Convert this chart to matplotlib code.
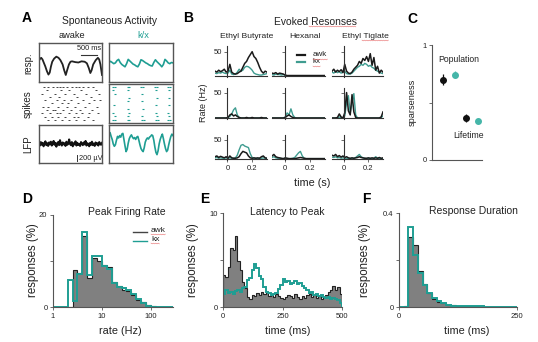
import numpy as np
import matplotlib
matplotlib.use("Agg")
import matplotlib.pyplot as plt

plt.rcParams['font.family'] = ['Liberation Sans', 'DejaVu Sans']

W, H = 538, 342
fig = plt.figure(figsize=(W / 100, H / 100), dpi=100)

TEAL = '#1f9e93'
TEAL_B = '#3f9c90'
TEAL_C = '#45b6a9'
GRAY = '#808080'
SPINE = '#555555'
TXT = '#222222'

# ---------------- data ----------------
# Panel A: resp traces (normalised box coordinates)
awake_resp_x = [0, 0.02, 0.035, 0.055, 0.075, 0.1, 0.125, 0.15, 0.17, 0.19, 0.21, 0.24, 0.275, 0.31, 0.34, 0.375,
                0.4, 0.425, 0.45, 0.475, 0.5, 0.525, 0.575, 0.625, 0.675, 0.725, 0.76, 0.79, 0.815, 0.835, 0.86,
                0.9, 0.935, 0.955, 0.975, 1.0]
awake_resp_y = [0.55, 0.60, 0.62, 0.58, 0.50, 0.40, 0.28, 0.19, 0.24, 0.40, 0.52, 0.60, 0.65, 0.62, 0.56, 0.45,
                0.30, 0.18, 0.32, 0.45, 0.52, 0.53, 0.51, 0.50, 0.53, 0.52, 0.48, 0.36, 0.23, 0.30, 0.45,
                0.56, 0.62, 0.58, 0.45, 0.18]
kx_resp_y = [0.50, 0.53, 0.50, 0.47, 0.49, 0.55, 0.58, 0.50, 0.45, 0.42, 0.39, 0.47, 0.58, 0.54, 0.50, 0.46,
             0.44, 0.41, 0.39, 0.46, 0.57, 0.55, 0.52, 0.49, 0.47, 0.44, 0.42, 0.41, 0.50, 0.57, 0.52, 0.48,
             0.44, 0.39, 0.45, 0.58, 0.54, 0.49, 0.47, 0.50, 0.49]
awake_spikes = [
    [0.08, 0.14, 0.22, 0.28, 0.33, 0.38, 0.45, 0.52, 0.58, 0.63, 0.70, 0.78, 0.86],
    [0.12, 0.35, 0.48, 0.66, 0.90],
    [0.05, 0.25, 0.42, 0.55, 0.74, 0.95],
    [0.18, 0.31, 0.60, 0.82],
    [0.10, 0.28, 0.40, 0.51, 0.70, 0.88, 0.97],
    [0.20, 0.36, 0.46, 0.62, 0.79],
    [0.07, 0.15, 0.30, 0.44, 0.57, 0.73, 0.92],
    [0.12, 0.22, 0.26, 0.38, 0.50, 0.65, 0.84],
    [0.04, 0.17, 0.28, 0.33, 0.47, 0.59, 0.69, 0.80, 0.94],
    [0.10, 0.21, 0.30, 0.42, 0.55, 0.62, 0.77],
    [0.15, 0.25, 0.36, 0.48, 0.58, 0.72, 0.85],
]
kx_spikes = [
    [0.06, 0.09, 0.29, 0.31, 0.50, 0.53, 0.72, 0.75, 0.92, 0.95],
    [0.07, 0.30, 0.74, 0.93],
    [0.09, 0.51],
    [0.31, 0.75, 0.94],
    [0.30, 0.52],
    [0.08, 0.73, 0.93],
    [0.29, 0.53],
    [0.07, 0.31, 0.74, 0.92],
    [0.09, 0.30, 0.52, 0.75, 0.94],
    [0.06, 0.09, 0.29, 0.32, 0.51, 0.54, 0.73, 0.76, 0.92, 0.95],
]
awake_lfp = [0.50, 0.46, 0.55, 0.48, 0.53, 0.44, 0.51, 0.57, 0.47, 0.52, 0.45, 0.54, 0.49, 0.56, 0.46, 0.50,
             0.58, 0.48, 0.53, 0.43, 0.51, 0.55, 0.47, 0.60, 0.50, 0.46, 0.54, 0.49, 0.52, 0.45, 0.56, 0.48,
             0.51, 0.62, 0.50, 0.47, 0.55, 0.44, 0.52, 0.49, 0.57, 0.46, 0.53, 0.48, 0.50, 0.45, 0.55, 0.51,
             0.47, 0.54, 0.49, 0.58, 0.46, 0.52, 0.50, 0.44, 0.53, 0.48, 0.56, 0.47, 0.51, 0.45, 0.54, 0.49,
             0.52, 0.46, 0.55, 0.50, 0.48, 0.53]
kx_lfp = [0.74, 0.80, 0.70, 0.62, 0.50, 0.44, 0.48, 0.60, 0.70, 0.66, 0.72, 0.68, 0.76, 0.78, 0.62, 0.45,
          0.30, 0.36, 0.52, 0.64, 0.70, 0.74, 0.68, 0.64, 0.67, 0.62, 0.68, 0.70, 0.60, 0.48, 0.38, 0.33,
          0.30, 0.40, 0.55, 0.62, 0.66, 0.63, 0.68, 0.70, 0.74, 0.72, 0.60, 0.42, 0.28, 0.22, 0.32, 0.50,
          0.62, 0.70, 0.76, 0.64, 0.50, 0.38, 0.30, 0.34, 0.48, 0.60, 0.70, 0.76, 0.72]

# Panel B: PSTHs (Hz), time grid -0.1 .. 0.32 s
psth_t = np.linspace(-0.1, 0.32, 29)
awk_eb1 = [10, 8, 12, 9, 11, 14, 8, 10, 24, 8, 5, 4, 5, 8, 10, 18, 26, 30, 38, 44, 50, 40, 36, 28, 18, 10, 6, 10, 8]
kx_eb1 = [6, 5, 7, 6, 8, 6, 5, 6, 12, 4, 3, 4, 8, 14, 10, 12, 18, 20, 19, 16, 12, 6, 4, 3, 2, 2, 3, 4, 5]
awk_hx1 = [6, 5, 7, 4, 6, 5, 4, 2, 1, 1, 1, 1, 1, 1, 1, 1, 1, 1, 1, 1, 1, 1, 1, 1, 1, 1, 1, 1, 1]
kx_hx1 = [3, 2, 4, 3, 3, 2, 3, 1, 0.5, 0.5, 0.5, 0.5, 0.5, 0.5, 0.5, 0.5, 0.5, 0.5, 0.5, 0.5, 0.5, 0.5, 0.5, 0.5,
          0.5, 0.5, 0.5, 0.5, 0.5]
awk_et1 = [10, 14, 8, 12, 9, 13, 7, 24, 10, 6, 5, 8, 14, 18, 22, 30, 26, 36, 32, 40, 30, 46, 22, 38, 12, 20, 6, 12, 8]
kx_et1 = [8, 6, 10, 7, 9, 6, 8, 10, 5, 4, 4, 6, 10, 14, 18, 20, 24, 22, 26, 24, 20, 22, 18, 16, 12, 10, 8, 6, 5]
awk_eb2 = [0, 0, 0, 0, 0, 0, 0, 1, 6, 8, 4, 6, 3, 1, 0, 0, 0, 1, 0, 0, 1, 0, 0, 0, 0, 1, 0, 0, 0]
kx_eb2 = [0, 0, 0, 0, 0, 0, 0, 1, 3, 8, 16, 20, 6, 1, 0, 0, 0, 0, 0, 0, 0, 0, 0, 0, 0, 0, 0, 0, 0]
awk_hx2 = [0, 0, 0, 0, 0, 0, 0, 1, 4, 6, 3, 1, 0, 0, 0, 0, 0, 0, 0, 0, 0, 0, 0, 0, 0, 0, 0, 0, 0]
kx_hx2 = [0, 0, 0, 0, 0, 0, 0, 2, 10, 6, 18, 6, 1, 0, 0, 0, 0, 0, 0, 0, 0, 0, 0, 0, 0, 0, 0, 0, 0]
awk_et2 = [0, 0, 0, 1, 8, 2, 0, 10, 50, 14, 6, 46, 12, 1, 0, 0, 0, 0, 0, 0, 0, 0, 0, 0, 0, 0, 0, 2, 12]
kx_et2 = [0, 0, 0, 0, 2, 1, 0, 4, 30, 44, 10, 30, 48, 6, 0, 0, 0, 0, 0, 0, 0, 0, 0, 0, 0, 0, 0, 1, 4]
awk_eb3 = [6, 8, 4, 7, 5, 3, 6, 2, 8, 3, 2, 2, 3, 6, 14, 20, 18, 16, 8, 3, 2, 3, 2, 3, 2, 6, 8, 3, 2]
kx_eb3 = [3, 4, 2, 3, 2, 2, 3, 2, 3, 2, 2, 3, 10, 24, 36, 38, 34, 32, 30, 14, 4, 2, 2, 1, 2, 2, 3, 2, 2]
awk_hx3 = [8, 12, 6, 4, 3, 2, 1, 3, 2, 1, 1, 1, 1, 2, 3, 4, 3, 2, 1, 1, 1, 1, 1, 1, 1, 1, 1, 1, 1]
kx_hx3 = [4, 6, 3, 2, 2, 1, 1, 2, 1, 1, 1, 2, 4, 10, 16, 20, 8, 2, 1, 1, 1, 1, 1, 1, 1, 1, 1, 1, 1]
awk_et3 = [10, 8, 12, 6, 9, 5, 8, 4, 6, 3, 2, 3, 2, 3, 4, 6, 4, 3, 2, 2, 3, 2, 3, 2, 3, 2, 4, 2, 3]
kx_et3 = [5, 4, 6, 3, 4, 2, 3, 2, 2, 2, 1, 2, 2, 4, 8, 12, 6, 3, 2, 1, 2, 1, 1, 2, 6, 2, 1, 1, 1]
odor_names = ['Ethyl Butyrate', 'Hexanal', 'Ethyl Tiglate']

# Panel C: sparseness
sparse_pos = [1, 2, 3, 4]
sparse_val = [0.70, 0.74, 0.365, 0.34]
sparse_err = [0.05, 0.03, 0.033, 0.015]

# Panel D: peak firing rate histogram (log10 bins of 0.1 decade, 0 .. 2.5)
rate_log_edges = np.round(np.arange(0, 2.51, 0.1), 2)
rate_awk = [0, 0, 0, 0, 8.0, 7.4, 15.4, 6.4, 10.7, 10.0, 9.1, 8.8, 5.5, 4.6, 3.8, 3.4, 2.6, 1.6, 1.0, 0.4, 0.15,
            0, 0, 0, 0]
rate_kx = [0, 0, 0, 5.9, 1.2, 7.2, 16.2, 6.9, 11.0, 11.0, 9.0, 8.2, 5.2, 4.4, 4.1, 3.6, 2.8, 1.8, 0.8, 0.3, 0.1,
           0, 0, 0, 0]

# Panel E: latency to peak (10 ms bins, 0..500 ms)
lat_edges = np.arange(0, 501, 10)
lat_awk = [3.4, 3.2, 4.3, 6.3, 6.1, 7.6, 4.9, 3.9, 2.7, 2.0, 1.1, 0.9, 1.3, 1.2, 1.5, 1.3, 1.6, 1.4, 1.5, 1.2,
           1.3, 1.1, 1.4, 1.2, 1.0, 0.9, 1.1, 1.3, 1.2, 1.0, 1.4, 1.1, 0.9, 1.2, 1.0, 1.3, 1.4, 1.1, 1.3, 1.0,
           1.2, 0.9, 1.1, 1.3, 1.6, 1.8, 2.2, 1.8, 2.1, 1.4]
lat_kx = [1.4, 1.8, 1.5, 1.6, 1.4, 1.7, 1.8, 1.6, 2.0, 2.1, 2.9, 3.1, 3.9, 4.6, 4.2, 3.3, 3.0, 2.1, 1.6, 1.5,
          1.3, 1.4, 1.5, 1.9, 2.3, 3.0, 2.7, 2.8, 2.4, 2.6, 2.8, 2.4, 2.6, 2.2, 2.0, 1.8, 1.5, 1.6, 1.3, 1.4,
          1.2, 1.3, 1.1, 1.0, 1.1, 0.9, 1.0, 0.9, 0.7, 0.4]

# Panel F: response duration (10 ms bins, 0..250 ms)
dur_edges = np.arange(0, 251, 10)
dur_awk = [0, 0.003, 0.30, 0.265, 0.155, 0.10, 0.058, 0.036, 0.022, 0.015, 0.010, 0.008, 0.006, 0.005, 0.004,
           0.003, 0.003, 0.002, 0.002, 0.002, 0.001, 0.001, 0.001, 0.001, 0.001]
dur_kx = [0, 0, 0.34, 0.22, 0.145, 0.095, 0.060, 0.040, 0.026, 0.017, 0.007, 0.006, 0.005, 0.004, 0.004, 0.003,
          0.003, 0.003, 0.002, 0.002, 0.002, 0.002, 0.001, 0.001, 0.001]


# ---------------- helpers ----------------
def px_ax(x0, y0, x1, y1):
    return fig.add_axes([x0 / W, 1 - y1 / H, (x1 - x0) / W, (y1 - y0) / H])


def ftext(x, y, s, **kw):
    kw.setdefault('ha', 'center')
    kw.setdefault('va', 'center')
    kw.setdefault('color', TXT)
    fig.text(x / W, 1 - y / H, s, **kw)


def squiggle(x0, x1, y):
    xs = np.arange(x0, x1 + 0.01, 1.2)
    ys = y + np.where(np.arange(len(xs)) % 2 == 0, -0.4, 0.4)
    fig.add_artist(plt.Line2D(xs / W, 1 - ys / H, color='#e04040', lw=0.4, alpha=0.75))


def style_axes(ax):
    for s in ['top', 'right']:
        ax.spines[s].set_visible(False)
    for s in ['left', 'bottom']:
        ax.spines[s].set_color(SPINE)
        ax.spines[s].set_linewidth(0.8)
    ax.tick_params(labelsize=5.5, length=2.5, width=0.6, color=SPINE, labelcolor=TXT, pad=1.5)


def box_axes(ax):
    ax.set_xlim(0, 1)
    ax.set_ylim(0, 1)
    ax.set_xticks([])
    ax.set_yticks([])
    for s in ax.spines.values():
        s.set_color(SPINE)
        s.set_linewidth(1.0)


# ---------------- Panel A ----------------
ftext(27, 17.5, 'A', fontsize=10, fontweight='bold', color='black')
ftext(110, 21, 'Spontaneous Activity', fontsize=7.4)
ftext(72, 35, 'awake', fontsize=6.7)
ftext(143, 35, 'k/x', fontsize=6.7, color=TEAL)

a1 = px_ax(39, 43, 102, 82)
box_axes(a1)
a1.plot(awake_resp_x, awake_resp_y, color='#222222', lw=1.3)
a1.plot([0.66, 0.916], [0.69, 0.69], color='#333333', lw=0.8)
a1.text(0.79, 0.76, '500 ms', fontsize=5.3, ha='center', va='bottom', color=TXT)

a2 = px_ax(109, 43, 173, 82)
box_axes(a2)
a2.plot(np.linspace(0, 1, len(kx_resp_y)), kx_resp_y, color=TEAL, lw=1.2)

a3 = px_ax(39, 85, 102, 122)
box_axes(a3)
for s in a3.spines.values():
    s.set_visible(False)
rows = np.linspace(0.95, 0.05, len(awake_spikes))
for yy, sp in zip(rows, awake_spikes):
    a3.scatter(sp, [yy] * len(sp), marker='_', s=2.5, color='#444444', linewidths=0.7)

a4 = px_ax(109, 84, 173, 123)
box_axes(a4)
rows = np.linspace(0.93, 0.08, len(kx_spikes))
for yy, sp in zip(rows, kx_spikes):
    a4.scatter(sp, [yy] * len(sp), marker='_', s=2.5, color=TEAL, linewidths=0.8)

a5 = px_ax(39, 125, 102, 163)
box_axes(a5)
a5.plot(np.linspace(0, 1, len(awake_lfp)), awake_lfp, color='#111111', lw=1.5)
a5.plot([0.6, 0.6], [0.06, 0.2], color='#333333', lw=0.7)
a5.text(0.64, 0.13, '200 µV', fontsize=5.3, ha='left', va='center', color=TXT)

a6 = px_ax(109, 125, 173, 163)
box_axes(a6)
a6.plot(np.linspace(0, 1, len(kx_lfp)), kx_lfp, color=TEAL, lw=1.2)

ftext(28, 63, 'resp.', fontsize=7, rotation=90)
ftext(28, 104, 'spikes', fontsize=7, rotation=90)
ftext(28, 144, 'LFP', fontsize=7, rotation=90)

# ---------------- Panel B ----------------
ftext(188, 17.5, 'B', fontsize=10, fontweight='bold', color='black')
ftext(316, 22, 'Evoked Resonses', fontsize=7.4)
squiggle(309, 356, 26.5)
col_px = [(215, 267), (272, 325), (332, 383)]
col_title_x = [247, 305, 365]
row_px = [(46, 77, -2, 61.7), (88, 119, -2, 59), (135, 160, -2.6, 63)]
psth_awk = [[awk_eb1, awk_hx1, awk_et1], [awk_eb2, awk_hx2, awk_et2], [awk_eb3, awk_hx3, awk_et3]]
psth_kx = [[kx_eb1, kx_hx1, kx_et1], [kx_eb2, kx_hx2, kx_et2], [kx_eb3, kx_hx3, kx_et3]]
for c, name in enumerate(odor_names):
    ftext(col_title_x[c], 36, name, fontsize=6.1)
squiggle(362, 389, 40.5)
for r, (y0, y1, ymin, ymax) in enumerate(row_px):
    for c, (x0, x1) in enumerate(col_px):
        ax = px_ax(x0, y0, x1, y1)
        style_axes(ax)
        ax.plot(psth_t, psth_kx[r][c], color=TEAL_B, lw=1.0)
        ax.plot(psth_t, psth_awk[r][c], color='#1a1a1a', lw=1.1)
        ax.set_xlim(-0.1, 0.32)
        ax.set_ylim(ymin, ymax)
        ax.spines['left'].set_position(('data', 0))
        ax.spines['bottom'].set_position(('data', 0))
        ax.spines['left'].set_color('#333333')
        ax.spines['bottom'].set_color('#333333')
        ax.set_yticks([50])
        ax.set_yticklabels(['50'] if c == 0 else [''])
        if r == 2:
            ax.set_xticks([0, 0.2])
            ax.set_xticklabels(['0', '0.2'])
        else:
            ax.set_xticks([])
        ax.patch.set_alpha(0)
        if r == 0 and c == 1:
            ax.plot([0.47, 0.63], [0.72, 0.72], transform=ax.transAxes, color='#1a1a1a', lw=1.6)
            ax.plot([0.47, 0.63], [0.5, 0.5], transform=ax.transAxes, color=TEAL_B, lw=1.6)
            ax.text(0.77, 0.74, 'awk', transform=ax.transAxes, fontsize=5.8, va='center', color=TXT)
            ax.text(0.77, 0.5, 'kx', transform=ax.transAxes, fontsize=5.8, va='center', color=TXT)
squiggle(313, 328, 59.5)
squiggle(313, 321, 66.5)
ftext(203, 103, 'Rate (Hz)', fontsize=6.5, rotation=90)
ftext(312, 183, 'time (s)', fontsize=7.8)

# ---------------- Panel C ----------------
ftext(412, 19, 'C', fontsize=10, fontweight='bold', color='black')
axc = px_ax(432, 45, 482, 160)
style_axes(axc)
for p, v, e, col in zip(sparse_pos, sparse_val, sparse_err, ['#111111', TEAL_C, '#111111', TEAL_C]):
    axc.errorbar([p], [v], yerr=[e], fmt='o', color=col, ms=4, elinewidth=0.9, capsize=0)
axc.set_xlim(0.06, 4.34)
axc.set_ylim(0, 1)
axc.set_xticks([])
axc.set_yticks([0, 0.5, 1])
axc.set_yticklabels(['0', '', '1'])
axc.set_ylabel('sparseness', fontsize=6.6, color=TXT, labelpad=4)
ftext(459, 60, 'Population', fontsize=6.2)
ftext(469, 135, 'Lifetime', fontsize=6.2)

# ---------------- Panel D ----------------
ftext(27, 199, 'D', fontsize=10, fontweight='bold', color='black')
axd = px_ax(53, 215, 173, 307)
style_axes(axd)
rate_edges = 10 ** rate_log_edges
axd.stairs(rate_awk, rate_edges, fill=True, color=GRAY)
axd.stairs(rate_awk, rate_edges, color='#222222', lw=0.8)
axd.stairs(rate_kx, rate_edges, color=TEAL, lw=1.4)
axd.set_xscale('log')
axd.set_xlim(1, 10 ** 2.45)
axd.set_ylim(0, 20)
axd.set_xticks([1, 10, 100])
axd.set_xticklabels(['1', '10', '100'])
axd.xaxis.set_minor_locator(matplotlib.ticker.NullLocator())
axd.set_yticks([0, 10, 20])
axd.set_yticklabels(['0', '', '20'])
ftext(127, 212, 'Peak Firing Rate', fontsize=7.5)
fig.add_artist(plt.Line2D([133 / W, 147 / W], [1 - 232 / H] * 2, color='#444444', lw=1.0))
fig.add_artist(plt.Line2D([133 / W, 147 / W], [1 - 240.5 / H] * 2, color=TEAL, lw=1.0))
ftext(151, 230.5, 'awk', fontsize=6, ha='left')
ftext(151, 239.5, 'kx', fontsize=6, ha='left')
squiggle(151, 166, 234.5)
squiggle(151, 160, 243.5)
ftext(33, 260, 'responses (%)', fontsize=8.3, rotation=90)
ftext(120, 331, 'rate (Hz)', fontsize=7.8)

# ---------------- Panel E ----------------
ftext(205, 199, 'E', fontsize=10, fontweight='bold', color='black')
axe = px_ax(223, 213, 342, 307)
style_axes(axe)
axe.stairs(lat_awk, lat_edges, fill=True, color=GRAY)
axe.stairs(lat_awk, lat_edges, color='#222222', lw=0.8)
axe.stairs(lat_kx, lat_edges, color=TEAL, lw=1.4)
axe.set_xlim(0, 500)
axe.set_ylim(0, 10)
axe.set_xticks([0, 250, 500])
axe.set_yticks([0, 5, 10])
axe.set_yticklabels(['0', '', '10'])
ftext(287, 212, 'Latency to Peak', fontsize=7.5)
ftext(193, 260, 'responses (%)', fontsize=8.3, rotation=90)
ftext(288, 331, 'time (ms)', fontsize=7.8)

# ---------------- Panel F ----------------
ftext(366, 199, 'F', fontsize=10, fontweight='bold', color='black')
axf = px_ax(399, 213, 517, 307)
style_axes(axf)
axf.stairs(dur_awk, dur_edges, fill=True, color=GRAY)
axf.stairs(dur_awk, dur_edges, color='#222222', lw=0.8)
axf.stairs(dur_kx, dur_edges, color=TEAL, lw=1.4)
axf.set_xlim(0, 250)
axf.set_ylim(0, 0.4)
axf.set_xticks([0, 250])
axf.set_yticks([0, 0.2, 0.4])
axf.set_yticklabels(['0', '', '0.4'])
ftext(473, 211, 'Response Duration', fontsize=7.5)
ftext(365, 260, 'responses (%)', fontsize=8.3, rotation=90)
ftext(467, 331, 'time (ms)', fontsize=7.8)

fig.savefig('out.png', dpi=100)
